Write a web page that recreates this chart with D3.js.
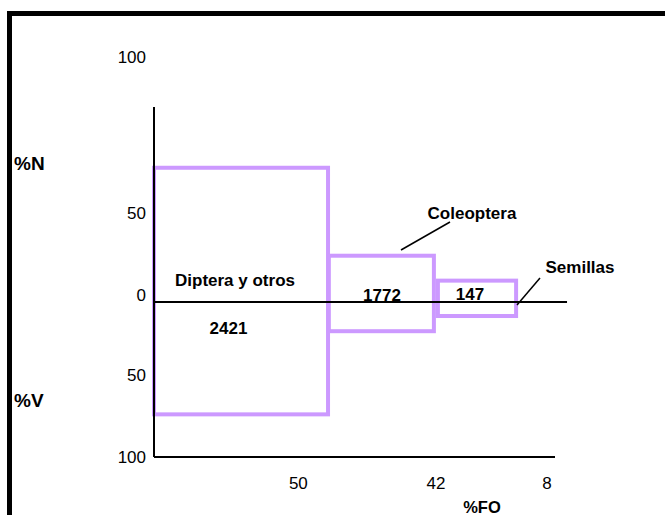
<!DOCTYPE html>
<html>
<head>
<meta charset="utf-8">
<script src="https://cdn.jsdelivr.net/npm/d3@7"></script>
<style>
  html, body { margin: 0; padding: 0; background: #fff; }
  svg { display: block; font-family: Arial, "Liberation Sans", sans-serif; }
</style>
</head>
<body>
<svg id="chart" width="665" height="515"></svg>
<script>
// ---- data ----
const categories = ["Diptera y otros", "Coleoptera", "Semillas"];
const counts     = ["2421", "1772", "147"];
const pctN       = [64.5, 26, 12];      // upper half (%N)
const pctV       = [74, 20, 9.6];       // lower half (%V)
const foStart    = [0, 43.6, 70.8];     // horizontal extent along %FO axis
const foEnd      = [43.4, 69.8, 90.3];
const foTickLabels = ["50", "42", "8"];
const foTickPos    = [36, 70.3, 98];
const yTickValues  = [100, 50, 0, -50, -100];
const yTickLabels  = ["100", "50", "0", "50", "100"];

// ---- scales ----
const svg = d3.select("#chart");
const x = d3.scaleLinear().domain([0, 100]).range([154, 555]);
// schematic, piecewise vertical scale (upper = %N, lower = %V)
const y = d3.scaleLinear().domain([100, 50, 0, -50, -100]).range([57, 213, 302, 375, 457]);

const purple = "#CC99FF";

// frame
svg.append("path")
  .attr("d", "M9.5,515 V13.5 H665")
  .attr("fill", "none").attr("stroke", "#000").attr("stroke-width", 5);

// bars
const data = categories.map((c, i) => ({ c, n: pctN[i], v: pctV[i], s: foStart[i], e: foEnd[i], k: counts[i] }));
svg.selectAll("rect.bar").data(data).enter().append("rect")
  .attr("class", "bar")
  .attr("x", d => x(d.s))
  .attr("y", d => y(d.n))
  .attr("width", d => x(d.e) - x(d.s))
  .attr("height", d => y(-d.v) - y(d.n))
  .attr("fill", "none")
  .attr("stroke", purple)
  .attr("stroke-width", 4);

// axes
svg.append("line").attr("x1", x(0)).attr("x2", x(0)).attr("y1", 107).attr("y2", y(-100))
  .attr("stroke", "#000").attr("stroke-width", 2);
svg.append("line").attr("x1", x(0)).attr("x2", x(100)).attr("y1", y(-100)).attr("y2", y(-100))
  .attr("stroke", "#000").attr("stroke-width", 2);
svg.append("line").attr("x1", x(0)).attr("x2", x(103)).attr("y1", y(0)).attr("y2", y(0))
  .attr("stroke", "#000").attr("stroke-width", 2);

// y tick labels
svg.selectAll("text.yt").data(yTickValues).enter().append("text")
  .attr("class", "yt")
  .attr("x", 146)
  .attr("y", d => y(d) + (d === 0 ? -7 : 0))
  .attr("dy", "0.35em")
  .attr("text-anchor", "end")
  .attr("font-size", 17)
  .text((d, i) => yTickLabels[i]);

// x tick labels
svg.selectAll("text.xt").data(foTickPos).enter().append("text")
  .attr("class", "xt")
  .attr("x", d => x(d))
  .attr("y", 483)
  .attr("dy", "0.35em")
  .attr("text-anchor", "middle")
  .attr("font-size", 17)
  .text((d, i) => foTickLabels[i]);

// axis titles
svg.append("text").attr("x", 14).attr("y", 163).attr("dy", "0.35em")
  .attr("font-size", 19).attr("font-weight", "bold").text("%N");
svg.append("text").attr("x", 14).attr("y", 400).attr("dy", "0.35em")
  .attr("font-size", 19).attr("font-weight", "bold").text("%V");
svg.append("text").attr("x", 482).attr("y", 507).attr("dy", "0.35em")
  .attr("text-anchor", "middle").attr("font-size", 16.5).attr("font-weight", "bold").text("%FO");

// category labels
const bold = (t, cx, cy) => svg.append("text").attr("x", cx).attr("y", cy).attr("dy", "0.35em")
  .attr("text-anchor", "middle").attr("font-size", 17).attr("font-weight", "bold").text(t);

bold(categories[0], 235, 280);
bold(counts[0], 228.5, 328);
bold(categories[1], 472, 213);
bold(counts[1], 382, 295);
bold(categories[2], 580, 267);
bold(counts[2], 470, 294);

// leader lines
svg.append("line").attr("x1", 450).attr("y1", 222).attr("x2", 401).attr("y2", 250)
  .attr("stroke", "#000").attr("stroke-width", 1.5);
svg.append("line").attr("x1", 540).attr("y1", 278).attr("x2", 517).attr("y2", 305)
  .attr("stroke", "#000").attr("stroke-width", 1.5);
</script>
</body>
</html>
